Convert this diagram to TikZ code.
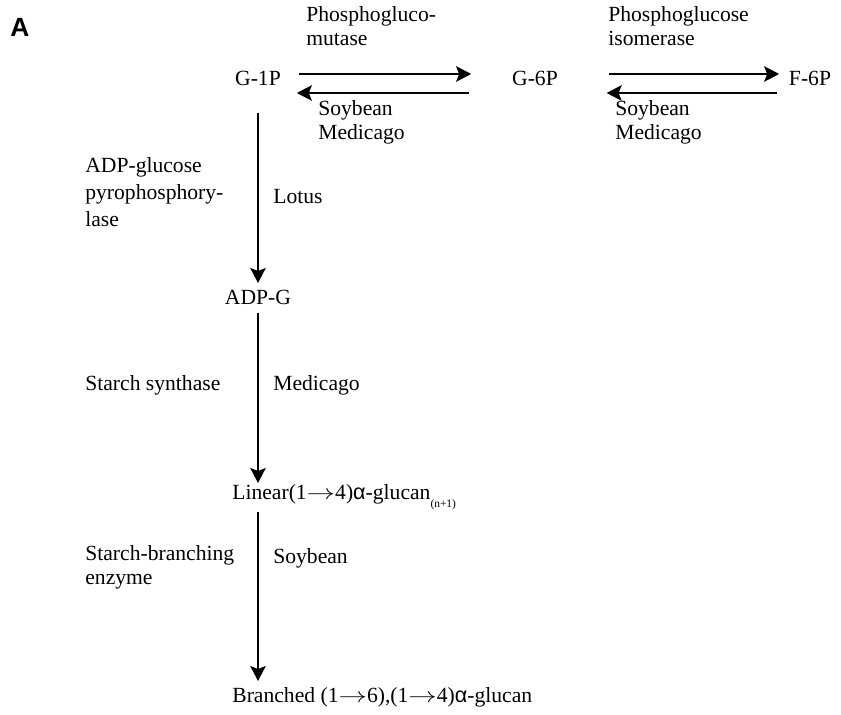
\documentclass[tikz,border=0pt]{standalone}
\usepackage{fontspec}
\usepackage{graphicx}
\setmainfont{Liberation Serif}
\newfontfamily\panelfont{Liberation Sans}
\usetikzlibrary{arrows.meta}
\newcommand{\glcalpha}{{\panelfont α}}
\newcommand{\bondto}{\scalebox{1.35}[1]{\ensuremath{\rightarrow}}}
\begin{document}
\begin{tikzpicture}[x=0.02cm, y=-0.02cm, >={Stealth[length=3mm, width=3.1mm, inset=0.6mm]},
  every node/.style={font=\fontsize{12.3}{13.8}\selectfont, inner sep=0pt},
  metab/.style={anchor=center},
  enz/.style={anchor=north west, align=left},
  flow/.style={->, line width=1.1pt}]

  \useasboundingbox (0,0) rectangle (841,715);

  % panel letter
  \node[font=\panelfont\bfseries\fontsize{15}{15}\selectfont] (panel) at (20,27) {A};

  % metabolites
  \node[metab] (g1p) at (258,78) {G-1P};
  \node[metab] (g6p) at (535,78) {G-6P};
  \node[metab] (f6p) at (810,78) {F-6P};
  \node[metab] (adpg) at (258,297) {ADP-G};
  \node[anchor=west] (lin) at (232,497) {Linear(1\bondto4)\glcalpha-glucan\raisebox{-4.5pt}{\fontsize{6.5}{6.5}\selectfont(n+1)}};
  \node[anchor=west] (bra) at (232,697) {Branched (1\bondto6),(1\bondto4)\glcalpha-glucan};

  % G-1P <-> G-6P
  \draw[flow] (g1p.east) ++(18,-4) -- ++(172,0);
  \draw[flow] (g6p.west) ++(-43,15) -- ++(-172,0);
  \node[enz] (pgm) at (306,6) {Phosphogluco-\\mutase};
  \node[enz] (pgmsp) at (318,100) {Soybean\\Medicago};

  % G-6P <-> F-6P
  \draw[flow] (g6p.east) ++(51,-4) -- ++(170,0);
  \draw[flow] (f6p.west) ++(-12,15) -- ++(-170,0);
  \node[enz] (pgi) at (608,6) {Phosphoglucose\\isomerase};
  \node[enz] (pgisp) at (615,100) {Soybean\\Medicago};

  % G-1P -> ADP-G
  \draw[flow] (g1p.south) ++(0,27) -- (258,283);
  \node[enz, font=\fontsize{12.3}{15.3}\selectfont] (agp) at (85,157) {ADP-glucose\\pyrophosphory-\\lase};
  \node[enz] (agpsp) at (273,189) {Lotus};

  % ADP-G -> linear glucan
  \draw[flow] (adpg.south) ++(0,8) -- (258,483);
  \node[enz] (ss) at (85,375) {Starch synthase};
  \node[enz] (sssp) at (273,375) {Medicago};

  % linear -> branched glucan
  \draw[flow] (258,512) -- (258,681);
  \node[enz] (sbe) at (85,545) {Starch-branching\\enzyme};
  \node[enz] (sbesp) at (273,548) {Soybean};

\end{tikzpicture}
\end{document}
